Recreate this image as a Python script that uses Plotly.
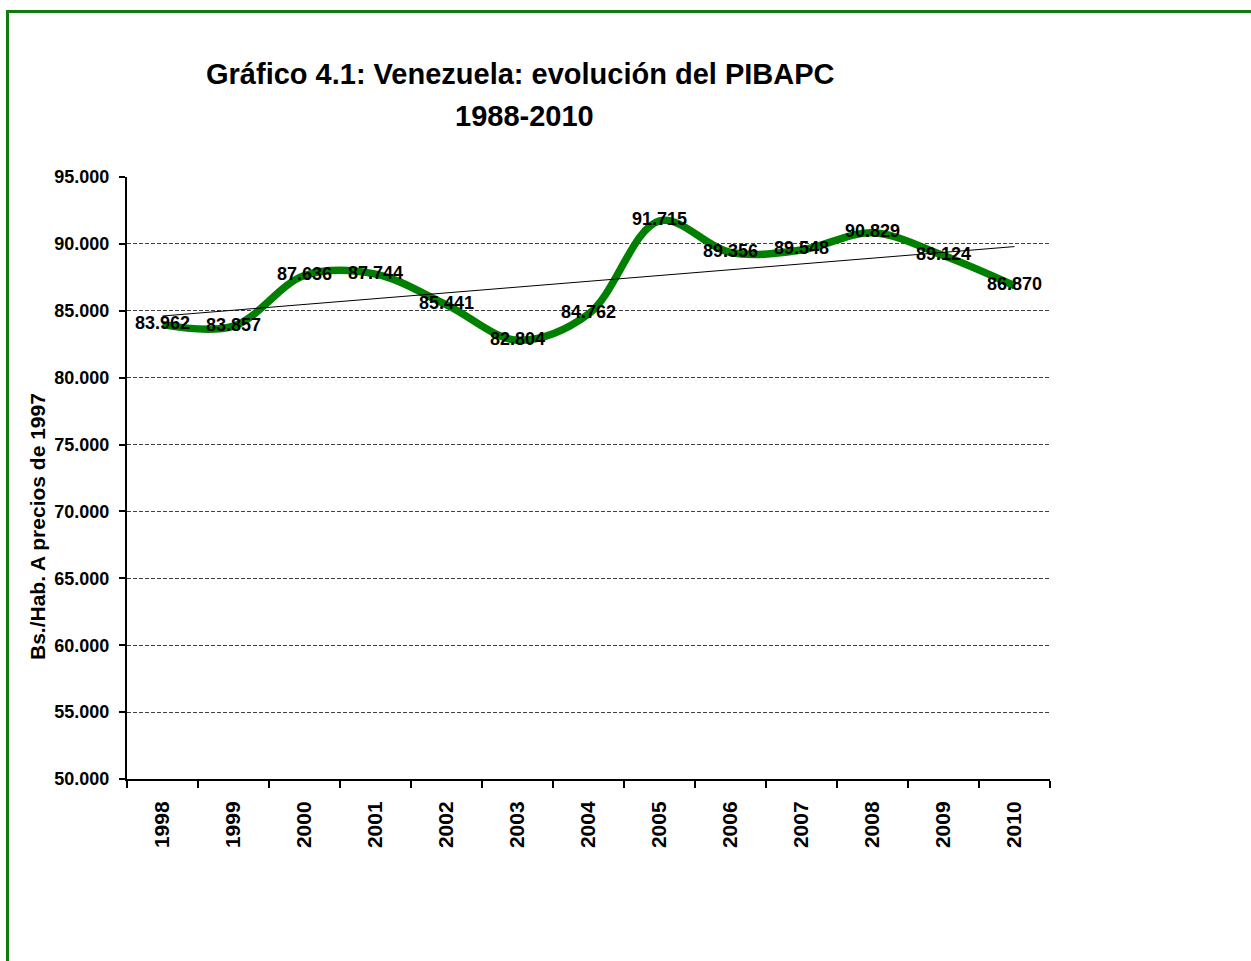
import numpy as np
import plotly.graph_objects as go

years = ["1998", "1999", "2000", "2001", "2002", "2003", "2004",
         "2005", "2006", "2007", "2008", "2009", "2010"]
pibapc = [83962, 83857, 87636, 87744, 85441, 82804, 84762,
          91715, 89356, 89548, 90829, 89124, 86870]
y_ticks = [50000, 55000, 60000, 65000, 70000, 75000, 80000, 85000, 90000, 95000]

title_line1 = "Gráfico 4.1: Venezuela: evolución del PIBAPC"
title_line2 = "1988-2010"
y_title = "Bs./Hab. A precios de 1997"

# linear trend computed from the series
idx = np.arange(len(pibapc))
slope, intercept = np.polyfit(idx, pibapc, 1)
trend = (slope * idx + intercept).tolist()

ARIAL = "Liberation Sans, Arial, sans-serif"

fig = go.Figure()
fig.add_trace(go.Scatter(
    x=years, y=pibapc, mode="lines",
    line=dict(color="#008000", width=7.5, shape="spline", smoothing=1.0),
    hoverinfo="skip", showlegend=False,
))
fig.add_trace(go.Scatter(
    x=years, y=trend, mode="lines",
    line=dict(color="black", width=1),
    hoverinfo="skip", showlegend=False,
))
fig.add_trace(go.Scatter(
    x=years, y=pibapc, mode="text",
    text=[f"{v:,}".replace(",", ".") for v in pibapc],
    textposition="middle center",
    textfont=dict(family=ARIAL, size=18, color="black", weight="bold"),
    hoverinfo="skip", showlegend=False,
))

fig.update_layout(
    width=1251, height=961,
    margin=dict(l=127, r=201, t=177, b=182, pad=0),
    paper_bgcolor="white", plot_bgcolor="white",
    separators=",.",
    showlegend=False,
)
fig.update_xaxes(
    type="category", range=[-0.5, 12.5],
    tickson="boundaries", ticks="outside", ticklen=7, tickwidth=1.5, tickcolor="black",
    tickangle=-90, ticklabelstandoff=12,
    tickfont=dict(family=ARIAL, size=21, color="black", weight="bold"),
    showline=True, linecolor="black", linewidth=2,
    showgrid=False, zeroline=False,
)
fig.update_yaxes(
    range=[50000, 95000], tickvals=y_ticks,
    ticktext=[f"{v:,}".replace(",", ".") for v in y_ticks],
    ticks="outside", ticklen=6, tickwidth=1.5, tickcolor="black",
    tickfont=dict(family=ARIAL, size=18, color="black", weight="bold"),
    ticklabelstandoff=6,
    showline=True, linecolor="black", linewidth=2,
    showgrid=True, gridcolor="#404040", gridwidth=1, griddash="4px,2px",
    zeroline=False,
)

fig.add_annotation(
    text=f"<b>{title_line1}</b>", xref="paper", yref="paper",
    x=(520 - 127) / 923, y=(779 - 74) / 602, xanchor="center", yanchor="middle",
    showarrow=False, font=dict(family=ARIAL, size=29, color="black"),
)
fig.add_annotation(
    text=f"<b>{title_line2}</b>", xref="paper", yref="paper",
    x=(524 - 127) / 923, y=(779 - 116) / 602, xanchor="center", yanchor="middle",
    showarrow=False, font=dict(family=ARIAL, size=29, color="black"),
)
fig.add_annotation(
    text=f"<b>{y_title}</b>", xref="paper", yref="paper",
    x=(37 - 127) / 923, y=(779 - 527) / 602, xanchor="center", yanchor="middle",
    textangle=-90, showarrow=False, font=dict(family=ARIAL, size=21, color="black"),
)

# green frame around the chart
fig.add_shape(
    type="rect", xref="paper", yref="paper",
    x0=(7.5 - 127) / 923, x1=(1300 - 127) / 923,
    y0=(779 - 1000) / 602, y1=(779 - 11.5) / 602,
    line=dict(color="#0f7a0f", width=3), fillcolor="rgba(0,0,0,0)", layer="below",
)

fig.write_html("out.html", config={"displayModeBar": False},
               post_script="document.body.style.margin='0px';")
